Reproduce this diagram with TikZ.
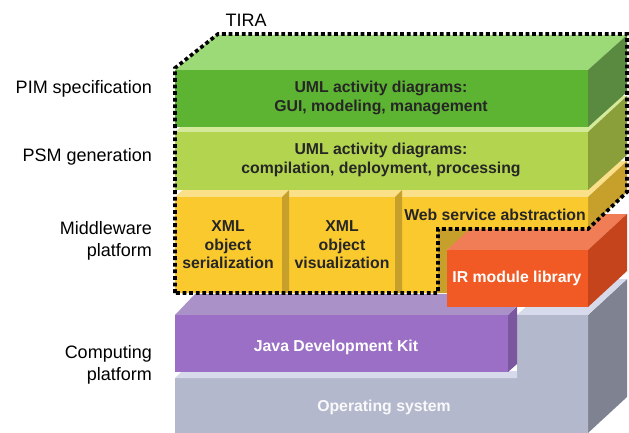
\documentclass[tikz,border=0pt]{standalone}
\usepackage{fontspec}
\setmainfont{Liberation Sans}
\definecolor{pimF}{HTML}{5DB432}
\definecolor{pimT}{HTML}{9CDA78}
\definecolor{pimR}{HTML}{5A8A3F}
\definecolor{psmF}{HTML}{B3D44F}
\definecolor{psmT}{HTML}{D5E99B}
\definecolor{psmR}{HTML}{8A9E3A}
\definecolor{mwF}{HTML}{FAC92E}
\definecolor{mwT}{HTML}{FBE08A}
\definecolor{mwD}{HTML}{C6A02A}
\definecolor{irF}{HTML}{F15A24}
\definecolor{irT}{HTML}{F07D56}
\definecolor{irR}{HTML}{C6441C}
\definecolor{jdkF}{HTML}{9A6FC5}
\definecolor{jdkT}{HTML}{AA91C8}
\definecolor{jdkR}{HTML}{7B57A0}
\definecolor{osF}{HTML}{B4B8CC}
\definecolor{osT}{HTML}{D6DAEB}
\definecolor{osR}{HTML}{7F8391}
\definecolor{txtdark}{HTML}{262626}
\tikzset{
  boxtxt/.style={font=\fontsize{15.8}{18.5}\selectfont\bfseries, text=txtdark, align=center, inner sep=0pt},
  boxtxtw/.style={boxtxt, text=white},
  lab/.style={font=\fontsize{18}{22.5}\selectfont, align=right, anchor=east, inner sep=0pt},
  tiraline/.style={line width=3.6pt, dash pattern=on 3.8pt off 2.8pt, black, line join=miter}
}
\begin{document}
\begin{tikzpicture}[x=1pt,y=-1pt]
\useasboundingbox (0,0) rectangle (629,433);
% Operating system
\fill[osR] (588,315) -- (627,279) -- (627,397) -- (588,433) -- cycle;
\fill[osT] (517,315) -- (588,315) -- (627,279) -- (556,279) -- cycle;
\fill[osF] (175,378) -- (517,378) -- (517,315) -- (588,315) -- (588,433) -- (175,433) -- cycle;
\fill[osT] (175,378) -- (517,378) -- (517,371) -- (182,371) -- cycle;
% JDK
\fill[jdkT] (175,315) -- (508,315) -- (528,294) -- (195,294) -- cycle;
\fill[jdkR] (508,315) -- (517,306) -- (517,364) -- (508,372) -- cycle;
\fill[jdkF] (175,315) rectangle (508,372);
% notch shading
\fill[mwD] (438,229) -- (472,229) -- (447,250) -- (447,293) -- (438,293) -- cycle;
% IR module
\fill[irT] (447,250) -- (588,250) -- (627,214) -- (486,214) -- cycle;
\fill[irR] (588,250) -- (627,214) -- (627,271) -- (588,307) -- cycle;
\fill[irF] (447,250) rectangle (588,307);
% Middleware
\fill[mwT] (175,197) -- (588,197) -- (627,161) -- (214,161) -- cycle;
\fill[mwD] (588,197) -- (627,161) -- (627,192) -- (588,229) -- cycle;
\fill[mwF] (175,197) -- (588,197) -- (588,229) -- (438,229) -- (438,293) -- (175,293) -- cycle;
\fill[mwD] (282,197) -- (289,190) -- (289,293) -- (282,293) -- cycle;
\fill[mwD] (395,197) -- (402,190) -- (402,293) -- (395,293) -- cycle;
% PSM
\fill[psmT] (175,132) -- (588,132) -- (627,96) -- (214,96) -- cycle;
\fill[psmR] (588,132) -- (627,96) -- (627,155) -- (588,190) -- cycle;
\fill[psmF] (175,132) rectangle (588,190);
% PIM
\fill[pimT] (175,70) -- (588,70) -- (627,35) -- (216,35) -- cycle;
\fill[pimR] (588,70) -- (627,35) -- (627,92) -- (588,127) -- cycle;
\fill[pimF] (175,70) rectangle (588,127);
% TIRA outline
\draw[tiraline] (175,293) -- (175,68) -- (218,34) -- (627,34) -- (627,192) -- (588,229) -- (438,229) -- (438,293) -- cycle;
% texts
\node (tira) at (246,20) [font=\fontsize{18}{22}\selectfont, inner sep=0pt] {TIRA};
\node (lpim) at (152,89) [lab] {PIM specification};
\node (lpsm) at (152,157) [lab] {PSM generation};
\node (lmw) at (152,241) [lab] {Middleware\\platform};
\node (lcp) at (152,365) [lab] {Computing\\platform};
\node (pim) at (381,98) [boxtxt] {UML activity diagrams:\\GUI, modeling, management};
\node (psm) at (381,160) [boxtxt] {UML activity diagrams:\\compilation, deployment, processing};
\node (xml1) at (228,245) [boxtxt] {XML\\object\\serialization};
\node (xml2) at (342,245) [boxtxt] {XML\\object\\visualization};
\node (ws) at (495,215) [boxtxt] {Web service abstraction};
\node (ir) at (517,278) [boxtxtw] {IR module library};
\node (jdk) at (336,347) [boxtxtw] {Java Development Kit};
\node (os) at (384,407) [boxtxtw, text=white!92!osF] {Operating system};
\end{tikzpicture}
\end{document}
